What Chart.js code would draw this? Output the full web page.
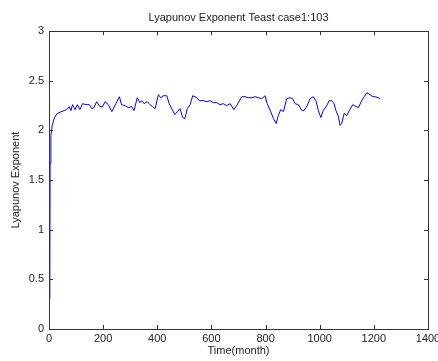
<!DOCTYPE html>
<html>
<head>
<meta charset="utf-8">
<script src="https://cdn.jsdelivr.net/npm/chart.js@4/dist/chart.umd.min.js"></script>
<style>
  html, body { margin: 0; padding: 0; background: #fff; }
  #wrap { width: 438px; height: 361px; }
</style>
</head>
<body>
<div id="wrap"><canvas id="lyap_chart" width="438" height="361"></canvas></div>
<script>
// Lyapunov exponent estimate over time (months)
var months = [3, 4, 7, 12, 20, 30, 45, 57, 65, 75, 81, 87, 96, 105, 114, 124, 137, 149, 158, 166,
    176, 188, 198, 207, 219, 232, 247, 260, 268, 281, 293, 305, 314, 326, 336, 342, 351, 363, 373, 383,
    392, 404, 413, 422, 435, 444, 457, 465, 474, 484, 494, 502, 511, 521, 531, 546, 555, 570, 583, 595,
    607, 620, 632, 644, 656, 669, 683, 693, 712, 724, 736, 749, 761, 773, 786, 798, 806, 819, 829, 839,
    847, 856, 866, 878, 890, 900, 909, 921, 934, 942, 954, 964, 976, 986, 995, 1004, 1013, 1026, 1035, 1044,
    1053, 1060, 1069, 1075, 1081, 1090, 1100, 1109, 1122, 1134, 1143, 1155, 1164, 1174, 1186, 1196, 1204, 1217, 1223];
var lyapValues = [0.30, 1.67, 1.95, 2.05, 2.13, 2.17, 2.19, 2.20, 2.21, 2.24, 2.20, 2.26, 2.21, 2.26, 2.21, 2.27, 2.26, 2.26, 2.22, 2.23,
    2.29, 2.24, 2.24, 2.29, 2.26, 2.19, 2.27, 2.34, 2.26, 2.25, 2.23, 2.24, 2.20, 2.33, 2.28, 2.30, 2.27, 2.29, 2.26, 2.24,
    2.22, 2.36, 2.33, 2.35, 2.35, 2.27, 2.20, 2.16, 2.19, 2.22, 2.13, 2.12, 2.22, 2.26, 2.35, 2.33, 2.30, 2.30, 2.29, 2.30,
    2.28, 2.28, 2.26, 2.27, 2.25, 2.27, 2.21, 2.25, 2.34, 2.34, 2.33, 2.33, 2.34, 2.33, 2.32, 2.35, 2.27, 2.19, 2.12, 2.07,
    2.15, 2.21, 2.19, 2.32, 2.33, 2.32, 2.27, 2.26, 2.20, 2.20, 2.25, 2.32, 2.34, 2.30, 2.20, 2.13, 2.20, 2.25, 2.30, 2.30,
    2.27, 2.20, 2.14, 2.05, 2.07, 2.17, 2.15, 2.20, 2.26, 2.24, 2.23, 2.30, 2.34, 2.38, 2.36, 2.34, 2.34, 2.33, 2.32];

var xMin = 0, xMax = 1400, xStep = 200;
var yMin = 0, yMax = 3, yStep = 0.5;

var FONT = 'Liberation Sans, Arial, sans-serif';
var AXIS_COLOR = '#333';

var dataPoints = [];
for (var i = 0; i < months.length; i++) {
    dataPoints.push({ x: months[i], y: lyapValues[i] });
}

// box around the axes with inward tick marks on all four sides
var boxAxes = {
    id: 'boxAxes',
    afterDraw: function (chart) {
        var ctx = chart.ctx;
        var a = chart.chartArea;
        var xs = chart.scales.x, ys = chart.scales.y;
        var len = 4;
        ctx.save();
        ctx.strokeStyle = AXIS_COLOR;
        ctx.lineWidth = 1;
        ctx.strokeRect(Math.round(a.left) + 0.5, Math.round(a.top) + 0.5,
            Math.round(a.right - a.left), Math.round(a.bottom - a.top));
        ctx.beginPath();
        xs.ticks.forEach(function (t) {
            var px = Math.round(xs.getPixelForValue(t.value)) + 0.5;
            ctx.moveTo(px, a.bottom);
            ctx.lineTo(px, a.bottom - len);
            ctx.moveTo(px, a.top);
            ctx.lineTo(px, a.top + len);
        });
        ys.ticks.forEach(function (t) {
            var py = Math.round(ys.getPixelForValue(t.value)) + 0.5;
            ctx.moveTo(a.left, py);
            ctx.lineTo(a.left + len, py);
            ctx.moveTo(a.right, py);
            ctx.lineTo(a.right - len, py);
        });
        ctx.stroke();
        ctx.restore();
    }
};

var ctx = document.getElementById('lyap_chart').getContext('2d');
var lyapChart = new Chart(ctx, {
    type: 'line',
    data: {
        datasets: [{
            label: 'Lyapunov Exponent',
            data: dataPoints,
            borderColor: '#0000ff',
            borderWidth: 1,
            pointRadius: 0,
            fill: false,
            tension: 0
        }]
    },
    options: {
        responsive: false,
        animation: false,
        layout: { padding: { left: 0, right: 10, top: 0, bottom: 0 } },
        scales: {
            x: {
                type: 'linear',
                min: xMin,
                max: xMax,
                grid: { display: false, drawTicks: false },
                border: { display: false },
                ticks: {
                    stepSize: xStep,
                    padding: 3,
                    maxRotation: 0,
                    color: '#222',
                    font: { family: FONT, size: 11 },
                    callback: function (v) { return String(v); }
                },
                title: {
                    display: true,
                    text: 'Time(month)',
                    color: '#222',
                    font: { family: FONT, size: 11 },
                    padding: { top: 0, bottom: 3 }
                },
                afterFit: function (scale) {
                    scale.height = 32;
                    scale.paddingLeft = 0;
                    scale.paddingRight = 0;
                }
            },
            y: {
                min: yMin,
                max: yMax,
                grid: { display: false, drawTicks: false },
                border: { display: false },
                ticks: {
                    stepSize: yStep,
                    padding: 5,
                    color: '#222',
                    font: { family: FONT, size: 11 },
                    callback: function (v) { return String(v); }
                },
                title: {
                    display: true,
                    text: 'Lyapunov Exponent',
                    color: '#222',
                    font: { family: FONT, size: 11 },
                    padding: { top: 9, bottom: 0 }
                },
                afterFit: function (scale) {
                    scale.width = 49;
                    scale.paddingTop = 0;
                    scale.paddingBottom = 0;
                }
            }
        },
        plugins: {
            legend: { display: false },
            tooltip: { enabled: false },
            title: {
                display: true,
                fullSize: false,
                text: 'Lyapunov Exponent Teast case1:103',
                color: '#222',
                font: { family: FONT, size: 11, weight: 'normal' },
                padding: { top: 11, bottom: 7 }
            }
        }
    },
    plugins: [boxAxes]
});
</script>
</body>
</html>
